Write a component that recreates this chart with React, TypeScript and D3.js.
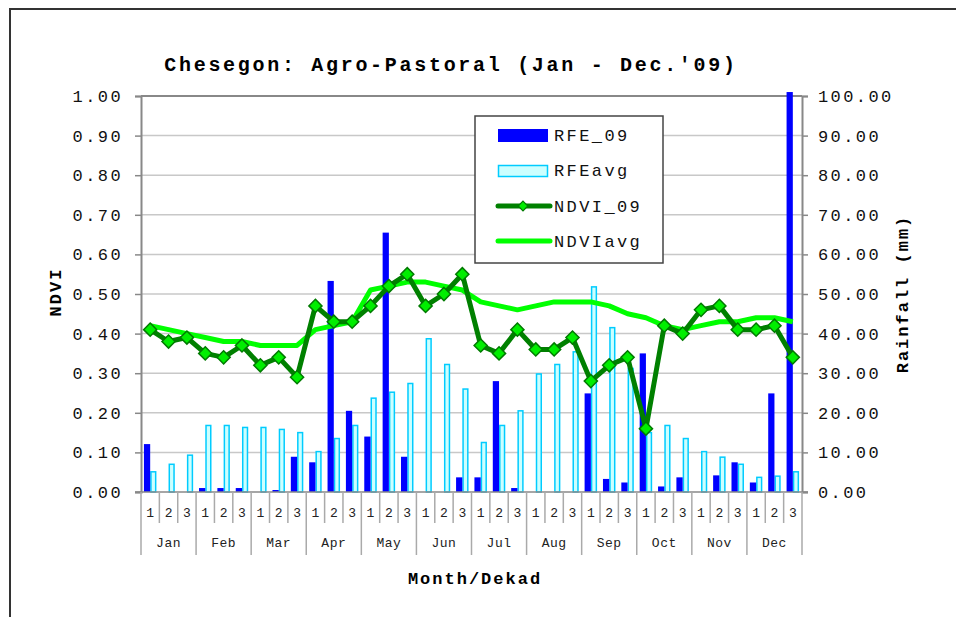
import React, { useRef, useEffect } from 'react';
import * as d3 from 'd3';

const months = ['Jan', 'Feb', 'Mar', 'Apr', 'May', 'Jun', 'Jul', 'Aug', 'Sep', 'Oct', 'Nov', 'Dec'];
const dekads = ['1', '2', '3'];
const categories = months.flatMap(m => dekads.map(d => `${m}-${d}`));

// rainfall (mm), one value per dekad
const rfe09 = [
  12.1, 0, 0, 1, 1, 1, 0, 0.5, 8.9, 7.5, 53.3, 20.5,
  14.0, 65.5, 8.9, 0, 0, 3.7, 3.7, 28.0, 1, 0, 0, 0,
  24.9, 3.3, 2.4, 35.0, 1.4, 3.7, 0, 4.2, 7.5, 2.4, 24.9, 101
];
const rfeAvg = [
  5.1, 7.0, 9.3, 16.8, 16.8, 16.3, 16.3, 15.8, 15.0, 10.2, 13.5, 16.8,
  23.7, 25.2, 27.4, 38.7, 32.2, 26.0, 12.5, 16.8, 20.5, 29.8, 32.2, 35.4,
  51.8, 41.5, 31.2, 15.0, 16.8, 13.5, 10.2, 8.8, 7.0, 3.7, 4.0, 5.1
];
const ndvi09 = [
  0.41, 0.38, 0.39, 0.35, 0.34, 0.37, 0.32, 0.34, 0.29, 0.47, 0.43, 0.43,
  0.47, 0.52, 0.55, 0.47, 0.50, 0.55, 0.37, 0.35, 0.41, 0.36, 0.36, 0.39,
  0.28, 0.32, 0.34, 0.16, 0.42, 0.40, 0.46, 0.47, 0.41, 0.41, 0.42, 0.34
];
const ndviAvg = [
  0.42, 0.41, 0.40, 0.39, 0.38, 0.38, 0.37, 0.37, 0.37, 0.41, 0.42, 0.43,
  0.51, 0.52, 0.53, 0.53, 0.52, 0.51, 0.48, 0.47, 0.46, 0.47, 0.48, 0.48,
  0.48, 0.47, 0.45, 0.44, 0.42, 0.41, 0.42, 0.43, 0.43, 0.44, 0.44, 0.43
];
const ndviTicks = [0, 0.1, 0.2, 0.3, 0.4, 0.5, 0.6, 0.7, 0.8, 0.9, 1.0];
const rainTicks = [0, 10, 20, 30, 40, 50, 60, 70, 80, 90, 100];

const W = 956;
const H = 617;
const FONT = '"Liberation Mono", "DejaVu Sans Mono", monospace';

const Chart = () => {
  const ref = useRef(null);

  useEffect(() => {
    d3.select(ref.current).selectAll('*').remove();
    const left = 141, right = 802, top = 96, bottom = 492;

    const x = d3.scaleBand().domain(categories).range([left, right]).padding(0);
    const inner = d3.scaleBand().domain(['rfe', 'avg']).range([0, x.bandwidth()]).paddingInner(0).paddingOuter(0.47);
    const yN = d3.scaleLinear().domain([0, 1]).range([bottom, top]);
    const yR = d3.scaleLinear().domain([0, 100]).range([bottom, top]);

    const svg = d3.select(ref.current)
      .append('svg')
        .attr('width', W)
        .attr('height', H)
        .style('position', 'absolute')
        .style('left', 0)
        .style('top', 0)
        .style('font-family', FONT);

    svg.append('rect').attr('width', W).attr('height', H).attr('fill', '#fff');

    // outer frame (runs off the right and bottom of the picture)
    svg.append('rect')
      .attr('x', 10).attr('y', 9).attr('width', 1000).attr('height', 700)
      .attr('fill', 'none').attr('stroke', '#333').attr('stroke-width', 2);

    // gridlines
    svg.append('g')
      .selectAll('line')
      .data(ndviTicks.slice(1))
      .join('line')
        .attr('x1', left).attr('x2', right)
        .attr('y1', d => yN(d)).attr('y2', d => yN(d))
        .attr('stroke', d => d === 1 ? '#888' : '#c8c8c8')
        .attr('stroke-width', d => d === 1 ? 2 : 1.5);

    // bars
    svg.append('g')
      .selectAll('rect')
      .data(rfeAvg)
      .join('rect')
        .attr('x', (d, i) => x(categories[i]) + inner('avg') + 0.75)
        .attr('width', inner.bandwidth() - 1.5)
        .attr('y', d => yR(d))
        .attr('height', d => bottom - yR(d))
        .attr('fill', '#ccffff')
        .attr('stroke', '#00ccff')
        .attr('stroke-width', 1.5);

    svg.append('g')
      .selectAll('rect')
      .data(rfe09)
      .join('rect')
        .attr('x', (d, i) => x(categories[i]) + inner('rfe'))
        .attr('width', inner.bandwidth())
        .attr('y', d => yR(d))
        .attr('height', d => bottom - yR(d))
        .attr('fill', '#0000ff');

    // axes
    const axL = svg.append('g')
      .attr('transform', `translate(${left},0)`)
      .call(d3.axisLeft(yN).tickValues(ndviTicks).tickFormat(d3.format('.2f')).tickSize(6).tickPadding(14));
    const axR = svg.append('g')
      .attr('transform', `translate(${right},0)`)
      .call(d3.axisRight(yR).tickValues(rainTicks).tickFormat(d3.format('.2f')).tickSize(6).tickPadding(10));
    [axL, axR].forEach(ax => {
      ax.select('.domain').attr('stroke', '#888').attr('stroke-width', 2);
      ax.selectAll('.tick line').attr('stroke', '#888').attr('stroke-width', 1.5);
      ax.selectAll('.tick text')
        .attr('font-family', FONT)
        .attr('font-size', 17)
        .attr('letter-spacing', 2.4)
        .attr('fill', '#111');
    });
    axL.selectAll('.tick text').attr('dx', 2);

    // category axis
    const xa = svg.append('g');
    xa.append('line')
      .attr('x1', left - 6).attr('x2', right + 6)
      .attr('y1', bottom).attr('y2', bottom)
      .attr('stroke', '#888').attr('stroke-width', 1.5);
    xa.selectAll('line.dk')
      .data(categories.concat(['end']))
      .join('line')
        .attr('class', 'dk')
        .attr('x1', (d, i) => left + i * x.step())
        .attr('x2', (d, i) => left + i * x.step())
        .attr('y1', bottom)
        .attr('y2', (d, i) => i % 3 === 0 ? 555 : 523)
        .attr('stroke', '#aaa')
        .attr('stroke-width', 1.5);
    xa.selectAll('text.dk')
      .data(categories)
      .join('text')
        .attr('class', 'dk')
        .attr('x', d => x(d) + x.bandwidth() / 2)
        .attr('y', 517)
        .attr('text-anchor', 'middle')
        .attr('font-size', 13)
        .attr('fill', '#222')
        .text(d => d.split('-')[1]);
    xa.selectAll('text.mo')
      .data(months)
      .join('text')
        .attr('class', 'mo')
        .attr('x', d => x(`${d}-2`) + x.bandwidth() / 2)
        .attr('y', 547)
        .attr('text-anchor', 'middle')
        .attr('font-size', 13)
        .attr('letter-spacing', 0.5)
        .attr('fill', '#222')
        .text(d => d);

    // lines
    const line = d3.line()
      .x((d, i) => x(categories[i]) + x.bandwidth() / 2)
      .y(d => yN(d));

    svg.append('path')
      .datum(ndviAvg)
      .attr('fill', 'none')
      .attr('stroke', '#00ff00')
      .attr('stroke-width', 5)
      .attr('stroke-linejoin', 'round')
      .attr('d', line);

    svg.append('path')
      .datum(ndvi09)
      .attr('fill', 'none')
      .attr('stroke', '#008000')
      .attr('stroke-width', 5)
      .attr('stroke-linejoin', 'round')
      .attr('d', line);

    const diamond = d3.symbol().type(d3.symbolDiamond2).size(110);
    svg.append('g')
      .selectAll('path')
      .data(ndvi09)
      .join('path')
        .attr('transform', (d, i) => `translate(${x(categories[i]) + x.bandwidth() / 2},${yN(d)})`)
        .attr('d', diamond)
        .attr('fill', '#00ee00')
        .attr('stroke', '#007a00')
        .attr('stroke-width', 1.5);

    // titles
    svg.append('text')
      .attr('x', 451).attr('y', 71)
      .attr('text-anchor', 'middle')
      .attr('font-size', 20)
      .attr('font-weight', 'bold')
      .attr('letter-spacing', 2.7)
      .text("Chesegon: Agro-Pastoral (Jan - Dec.'09)");

    svg.append('text')
      .attr('transform', 'translate(61,292) rotate(-90)')
      .attr('text-anchor', 'middle')
      .attr('font-size', 17)
      .attr('font-weight', 'bold')
      .attr('letter-spacing', 2)
      .text('NDVI');

    svg.append('text')
      .attr('transform', 'translate(908,294) rotate(-90)')
      .attr('text-anchor', 'middle')
      .attr('font-size', 17)
      .attr('font-weight', 'bold')
      .attr('letter-spacing', 2)
      .text('Rainfall (mm)');

    svg.append('text')
      .attr('x', 475).attr('y', 584)
      .attr('text-anchor', 'middle')
      .attr('font-size', 17)
      .attr('font-weight', 'bold')
      .attr('letter-spacing', 2)
      .text('Month/Dekad');

    // legend
    const lg = svg.append('g');
    lg.append('rect')
      .attr('x', 475).attr('y', 116).attr('width', 188).attr('height', 147)
      .attr('fill', '#fff').attr('stroke', '#444').attr('stroke-width', 1.5);
    lg.append('rect')
      .attr('x', 498).attr('y', 129).attr('width', 50).attr('height', 13)
      .attr('fill', '#0000ff');
    lg.append('rect')
      .attr('x', 498.5).attr('y', 165.5).attr('width', 49).attr('height', 11)
      .attr('fill', '#ccffff').attr('stroke', '#00ccff').attr('stroke-width', 1.5);
    lg.append('line')
      .attr('x1', 498).attr('x2', 550).attr('y1', 206).attr('y2', 206)
      .attr('stroke', '#008000').attr('stroke-width', 5).attr('stroke-linecap', 'round');
    lg.append('path')
      .attr('transform', 'translate(523,206)')
      .attr('d', d3.symbol().type(d3.symbolDiamond2).size(60))
      .attr('fill', '#00ee00').attr('stroke', '#007a00').attr('stroke-width', 1.2);
    lg.append('line')
      .attr('x1', 498).attr('x2', 550).attr('y1', 241).attr('y2', 241)
      .attr('stroke', '#00ff00').attr('stroke-width', 5).attr('stroke-linecap', 'round');
    lg.selectAll('text')
      .data(['RFE_09', 'RFEavg', 'NDVI_09', 'NDVIavg'])
      .join('text')
        .attr('x', 554)
        .attr('y', (d, i) => [141, 176, 212, 247][i])
        .attr('font-size', 17)
        .attr('letter-spacing', 2.4)
        .attr('fill', '#111')
        .text(d => d);
  }, []);

  return <div ref={ref}></div>;
};

export default function App() {
  return <Chart />;
}
